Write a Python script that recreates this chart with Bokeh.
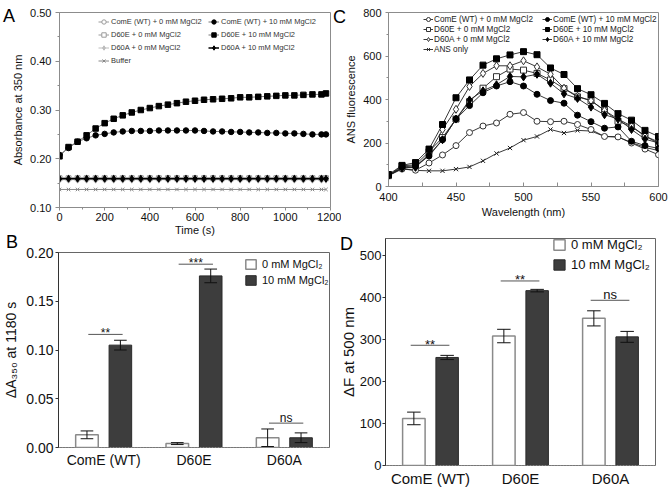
from bokeh.plotting import figure
from bokeh.layouts import column, row
from bokeh.models import Range1d, Legend, LegendItem, FixedTicker, NumeralTickFormatter, Div
from bokeh.core.properties import value
from bokeh.embed import file_html
from bokeh.resources import INLINE

FONT = "Liberation Sans"

# ---------------- Panel A data ----------------
time_s = [0, 40, 80, 120, 160, 200, 240, 280, 320, 360, 400, 440, 480, 520, 560, 600,
          640, 680, 720, 760, 800, 840, 880, 920, 960, 1000, 1040, 1080, 1120, 1160, 1180]
a_come_0 = [0.161, 0.161, 0.161, 0.161, 0.161, 0.161, 0.161, 0.161, 0.161, 0.161, 0.161,
            0.161, 0.161, 0.161, 0.161, 0.161, 0.161, 0.161, 0.161, 0.161, 0.161, 0.161,
            0.161, 0.161, 0.161, 0.161, 0.161, 0.161, 0.161, 0.161, 0.161]
a_come_10 = [0.208, 0.222, 0.235, 0.242, 0.248, 0.251, 0.254, 0.256, 0.257, 0.257, 0.257,
             0.258, 0.258, 0.258, 0.258, 0.258, 0.257, 0.256, 0.256, 0.255, 0.255, 0.254,
             0.254, 0.253, 0.253, 0.252, 0.252, 0.251, 0.250, 0.250, 0.250]
a_d60e_0 = [0.160, 0.160, 0.160, 0.160, 0.160, 0.160, 0.160, 0.160, 0.160, 0.160, 0.160,
            0.160, 0.160, 0.160, 0.160, 0.160, 0.160, 0.160, 0.160, 0.160, 0.160, 0.160,
            0.160, 0.160, 0.160, 0.160, 0.160, 0.160, 0.160, 0.160, 0.160]
a_d60e_10 = [0.205, 0.224, 0.235, 0.248, 0.262, 0.273, 0.282, 0.289, 0.295, 0.300, 0.304,
             0.308, 0.311, 0.314, 0.317, 0.319, 0.321, 0.322, 0.323, 0.324, 0.326, 0.326,
             0.327, 0.328, 0.329, 0.330, 0.330, 0.331, 0.332, 0.332, 0.334]
a_d60a_0 = [0.157, 0.157, 0.157, 0.157, 0.157, 0.157, 0.157, 0.157, 0.157, 0.157, 0.157,
            0.157, 0.157, 0.157, 0.157, 0.157, 0.157, 0.157, 0.157, 0.157, 0.157, 0.157,
            0.157, 0.157, 0.157, 0.157, 0.157, 0.157, 0.157, 0.157, 0.157]
a_d60a_10 = [0.159, 0.159, 0.159, 0.159, 0.159, 0.159, 0.159, 0.159, 0.159, 0.159, 0.159,
             0.159, 0.159, 0.159, 0.159, 0.159, 0.159, 0.159, 0.159, 0.159, 0.159, 0.159,
             0.159, 0.159, 0.159, 0.159, 0.159, 0.159, 0.159, 0.159, 0.159]
a_buffer = [0.137, 0.137, 0.137, 0.137, 0.137, 0.137, 0.137, 0.137, 0.137, 0.137, 0.137,
            0.137, 0.137, 0.137, 0.137, 0.137, 0.137, 0.137, 0.137, 0.137, 0.137, 0.137,
            0.137, 0.137, 0.137, 0.137, 0.137, 0.137, 0.137, 0.137, 0.137]
a_xticks = [0, 200, 400, 600, 800, 1000, 1200]
a_yticks = [0.10, 0.20, 0.30, 0.40, 0.50]

# ---------------- Panel C data ----------------
wavelength = [400, 410, 420, 430, 440, 450, 460, 470, 480, 490, 500,
              510, 520, 530, 540, 550, 560, 570, 580, 590, 600]
c_come_0 = [50, 80, 75, 108, 145, 188, 248, 278, 292, 332, 340, 300, 298, 300, 285, 262, 230, 228, 200, 172, 146]
c_come_10 = [50, 90, 95, 140, 215, 310, 372, 431, 462, 482, 462, 424, 395, 383, 328, 298, 268, 274, 208, 188, 175]
c_d60e_0 = [50, 95, 100, 160, 225, 310, 390, 452, 505, 540, 535, 520, 490, 450, 412, 395, 350, 300, 275, 232, 198]
c_d60e_10 = [55, 97, 110, 172, 285, 408, 490, 558, 587, 605, 620, 606, 545, 515, 450, 422, 382, 335, 305, 258, 230]
c_d60a_0 = [50, 85, 90, 150, 262, 355, 460, 520, 555, 555, 578, 550, 516, 452, 415, 395, 350, 310, 278, 232, 205]
c_d60a_10 = [50, 85, 88, 145, 215, 310, 398, 440, 468, 506, 504, 516, 475, 426, 405, 365, 330, 311, 262, 218, 200]
c_ans = [55, 82, 74, 72, 72, 80, 90, 118, 152, 177, 213, 230, 262, 246, 258, 255, 230, 228, 202, 180, 165]
c_xticks = [400, 450, 500, 550, 600]
c_yticks = [0, 200, 400, 600, 800]

# ---------------- Panels B / D data ----------------
groups = ["ComE (WT)", "D60E", "D60A"]
legend_labels = ["0 mM MgCl\u2082", "10 mM MgCl\u2082"]
b_0mm = [0.013, 0.004, 0.010]
b_0mm_err = [0.004, 0.001, 0.009]
b_10mm = [0.105, 0.176, 0.010]
b_10mm_err = [0.005, 0.007, 0.005]
b_sig = ["**", "***", "ns"]
b_sig_level = [0.116, 0.188, 0.025]
b_yticks = [0.00, 0.05, 0.10, 0.15, 0.20]

d_0mm = [112, 308, 350]
d_0mm_err = [15, 16, 18]
d_10mm = [257, 416, 306]
d_10mm_err = [5, 3, 13]
d_sig = ["**", "**", "ns"]
d_sig_level = [286, 439, 393]
d_yticks = [0, 100, 200, 300, 400, 500]

panel_letters = ["A", "B", "C", "D"]


def make_fig(w, h, xr, yr, bl, br, bt, bb):
    p = figure(width=w, height=h, x_range=Range1d(*xr), y_range=Range1d(*yr),
               output_backend="svg", toolbar_location=None, frame_align=False,
               min_border_left=bl, min_border_right=br, min_border_top=bt, min_border_bottom=bb)
    p.xgrid.visible = False
    p.ygrid.visible = False
    p.background_fill_color = "white"
    p.border_fill_color = "white"
    for ax in p.axis:
        ax.major_label_text_font = FONT
        ax.axis_label_text_font = FONT
        ax.axis_label_text_font_style = "normal"
        ax.major_label_text_color = "#111111"
        ax.axis_label_text_color = "#111111"
    return p


# ======================= Panel A =======================
pA = make_fig(341, 238, (0, 1200), (0.10, 0.50), 59, 11, 12, 31)
pA.outline_line_color = "#8c8c8c"
pA.xaxis.ticker = FixedTicker(ticks=a_xticks, minor_ticks=[100, 300, 500, 700, 900, 1100])
pA.yaxis.ticker = FixedTicker(ticks=a_yticks, minor_ticks=[0.15, 0.25, 0.35, 0.45])
pA.yaxis.formatter = NumeralTickFormatter(format="0.00")
for ax in pA.axis:
    ax.axis_line_color = "#8c8c8c"
    ax.major_tick_line_color = "#8c8c8c"
    ax.minor_tick_line_color = "#8c8c8c"
    ax.major_label_text_font_size = "11px"
    ax.axis_label_text_font_size = "11px"
pA.xaxis.major_tick_out = 3
pA.xaxis.major_tick_in = 0
pA.xaxis.minor_tick_out = 2
pA.xaxis.minor_tick_in = 0
pA.xaxis.major_label_standoff = 2
pA.xaxis.axis_label = "Time (s)"
pA.xaxis.axis_label_standoff = 0
pA.yaxis.major_tick_out = 4
pA.yaxis.major_tick_in = 0
pA.yaxis.minor_tick_out = 2
pA.yaxis.minor_tick_in = 0
pA.yaxis.major_label_standoff = 4
pA.yaxis.axis_label = "Absorbance at 350 nm"
pA.yaxis.axis_label_standoff = 3

rA = {}
specA = [
    ("Buffer", a_buffer, "x", 5, "#888888", "#888888", "#888888", 1),
    ("ComE (WT) + 0 mM MgCl2", a_come_0, "circle", 5, "white", "#9a9a9a", "#9a9a9a", 1),
    ("D60E + 0 mM MgCl2", a_d60e_0, "square", 5, "white", "#9a9a9a", "#9a9a9a", 1),
    ("D60A + 0 mM MgCl2", a_d60a_0, "diamond", 7, "#bdbdbd", "#bdbdbd", "#bdbdbd", 1),
    ("D60A + 10 mM MgCl2", a_d60a_10, "diamond", 7, "#000000", "#000000", "#000000", 1.5),
    ("ComE (WT) + 10 mM MgCl2", a_come_10, "circle", 5.5, "#000000", "#000000", "#777777", 1),
    ("D60E + 10 mM MgCl2", a_d60e_10, "square", 5.5, "#000000", "#000000", "#777777", 1),
]
for name, ys, mk, sz, fc, lc, linec, lw in specA:
    l = pA.line(time_s, ys, line_color=linec, line_width=lw)
    s = pA.scatter(time_s, ys, marker=mk, size=sz, fill_color=fc, line_color=lc, line_width=1)
    rA[name] = [l, s]

legA_left = ["ComE (WT) + 0 mM MgCl2", "D60E + 0 mM MgCl2", "D60A + 0 mM MgCl2", "Buffer"]
legA_right = ["ComE (WT) + 10 mM MgCl2", "D60E + 10 mM MgCl2", "D60A + 10 mM MgCl2"]
for names, loc in ((legA_left, (39, 140)), (legA_right, (149, 153))):
    lg = Legend(items=[LegendItem(label=n, renderers=rA[n]) for n in names], location=loc,
                padding=0, margin=0, spacing=0, glyph_width=11, glyph_height=13, label_height=13,
                label_standoff=2, label_text_font=FONT, label_text_font_size="7.5px",
                label_text_color="#333333", background_fill_alpha=0, border_line_alpha=0)
    pA.add_layout(lg)

# ======================= Panel C =======================
pC = make_fig(328, 238, (400, 600), (0, 800), 47, 11, 12, 52)
pC.outline_line_color = "#8c8c8c"
pC.xaxis.ticker = FixedTicker(ticks=c_xticks, minor_ticks=[425, 475, 525, 575])
pC.yaxis.ticker = FixedTicker(ticks=c_yticks, minor_ticks=[100, 300, 500, 700])
for ax in pC.axis:
    ax.axis_line_color = "#8c8c8c"
    ax.major_tick_line_color = "#8c8c8c"
    ax.minor_tick_line_color = "#8c8c8c"
    ax.major_label_text_font_size = "11px"
    ax.axis_label_text_font_size = "11px"
pC.xaxis.major_tick_in = 4
pC.xaxis.major_tick_out = 0
pC.xaxis.minor_tick_in = 4
pC.xaxis.minor_tick_out = 0
pC.xaxis.major_label_standoff = 6
pC.xaxis.axis_label = "Wavelength (nm)"
pC.xaxis.axis_label_standoff = 2
pC.yaxis.major_tick_out = 3
pC.yaxis.major_tick_in = 0
pC.yaxis.minor_tick_out = 2
pC.yaxis.minor_tick_in = 0
pC.yaxis.major_label_standoff = 4
pC.yaxis.axis_label = "ANS fluorescence"
pC.yaxis.axis_label_standoff = 3

rC = {}
specC = [
    ("ANS only", c_ans, "x", 6, "#222222", "#222222"),
    ("ComE (WT) + 0 mM MgCl2", c_come_0, "circle", 6, "white", "#333333"),
    ("D60E + 0 mM MgCl2", c_d60e_0, "square", 6, "white", "#333333"),
    ("D60A + 0 mM MgCl2", c_d60a_0, "diamond", 8, "white", "#333333"),
    ("D60A + 10 mM MgCl2", c_d60a_10, "diamond", 8, "#000000", "#000000"),
    ("ComE (WT) + 10 mM MgCl2", c_come_10, "circle", 6, "#000000", "#000000"),
    ("D60E + 10 mM MgCl2", c_d60e_10, "square", 6, "#000000", "#000000"),
]
for name, ys, mk, sz, fc, lc in specC:
    l = pC.line(wavelength, ys, line_color="#222222", line_width=0.9)
    s = pC.scatter(wavelength, ys, marker=mk, size=sz, fill_color=fc, line_color=lc, line_width=1)
    rC[name] = [l, s]

legC_left = ["ComE (WT) + 0 mM MgCl2", "D60E + 0 mM MgCl2", "D60A + 0 mM MgCl2", "ANS only"]
legC_right = ["ComE (WT) + 10 mM MgCl2", "D60E + 10 mM MgCl2", "D60A + 10 mM MgCl2"]
for names, loc in ((legC_left, (35, 132)), (legC_right, (154, 142))):
    lg = Legend(items=[LegendItem(label=n, renderers=rC[n]) for n in names], location=loc,
                padding=0, margin=0, spacing=0, glyph_width=10, glyph_height=10, label_height=10,
                label_standoff=1, label_text_font=FONT, label_text_font_size="8.2px",
                label_text_color="#222222", background_fill_alpha=0, border_line_alpha=0)
    pC.add_layout(lg)


# ======================= Bar panels =======================
def bar_panel(p, v0, e0, v10, e10, sig, sig_level, off, bw, cap, sl, sr, sig_size,
              px_per_unit, tick_size, label_size, leg_loc, leg_glyph, leg_font):
    centers = [i + 0.5 for i in range(len(groups))]
    x0 = [c - off for c in centers]
    x1 = [c + off for c in centers]
    r0 = p.vbar(x=x0, top=v0, width=bw, fill_color="white", line_color="#8a8a8a", line_width=1.5)
    r1 = p.vbar(x=x1, top=v10, width=bw, fill_color="#3d3d3d", line_color="#2a2a2a", line_width=1)
    for xs, v, e in ((x0, v0, e0), (x1, v10, e10)):
        lo = [a - b for a, b in zip(v, e)]
        hi = [a + b for a, b in zip(v, e)]
        p.segment(x0=xs, y0=lo, x1=xs, y1=hi, line_color="#111111", line_width=1)
        for yy in (lo, hi):
            p.segment(x0=[x - cap for x in xs], y0=yy, x1=[x + cap for x in xs], y1=yy,
                      line_color="#111111", line_width=1)
    p.segment(x0=[c + sl for c in centers], y0=sig_level, x1=[c + sr for c in centers],
              y1=sig_level, line_color="#555555", line_width=1)
    ty = [lv + (5.5 if s == "ns" else 1.0) / px_per_unit for lv, s in zip(sig_level, sig)]
    p.text(x=[c + (sl + sr) / 2 for c in centers], y=ty, text=sig, text_align="center",
           text_baseline="alphabetic", text_font=value(FONT), text_font_size=sig_size,
           text_color="#111111")
    p.xaxis.ticker = FixedTicker(ticks=centers)
    p.xaxis.major_label_overrides = {c: g for c, g in zip(centers, groups)}
    p.xaxis.major_tick_out = 0
    p.xaxis.major_tick_in = 0
    p.xaxis.minor_tick_out = 0
    p.xaxis.minor_tick_in = 0
    p.xaxis.axis_line_color = "#888888"
    p.xaxis.axis_line_dash = "2 1"
    p.xaxis.major_label_standoff = 4
    p.yaxis.minor_tick_out = 0
    p.yaxis.minor_tick_in = 0
    p.yaxis.major_tick_in = 0
    p.yaxis.major_tick_out = 3
    p.yaxis.major_label_standoff = 2
    p.yaxis.axis_line_color = "#333333"
    p.yaxis.major_tick_line_color = "#333333"
    p.outline_line_color = "#666666"
    for ax in p.axis:
        ax.major_label_text_font_size = tick_size
        ax.axis_label_text_font_size = label_size
    p.xaxis.major_label_text_font_size = label_size
    lg = Legend(items=[LegendItem(label=legend_labels[0], renderers=[r0]),
                       LegendItem(label=legend_labels[1], renderers=[r1])],
                location=leg_loc, padding=0, margin=0, spacing=leg_glyph[2],
                glyph_width=leg_glyph[0], glyph_height=leg_glyph[1], label_height=leg_glyph[1],
                label_standoff=5, label_text_font=FONT, label_text_font_size=leg_font,
                label_text_color="#111111", background_fill_alpha=0, border_line_alpha=0)
    p.add_layout(lg)


pB = make_fig(335, 251, (0, 3), (0.0, 0.20), 56, 6, 14, 42)
pB.yaxis.ticker = FixedTicker(ticks=b_yticks)
pB.yaxis.formatter = NumeralTickFormatter(format="0.00")
pB.yaxis.axis_label = "\u0394A\u2083\u2085\u2080 at 1180 s"
pB.yaxis.axis_label_standoff = 4
bar_panel(pB, b_0mm, b_0mm_err, b_10mm, b_10mm_err, b_sig, b_sig_level,
          0.185, 0.25, 0.07, -0.17, 0.21, "12px", 195 / 0.2, "14px", "14px",
          (186, 161), (13, 12, 4), "11px")

pD = make_fig(334, 251, (0, 3), (0, 540), 50, 14, 0, 23)
pD.yaxis.ticker = FixedTicker(ticks=d_yticks)
pD.yaxis.axis_label = "\u0394F at 500 nm"
bar_panel(pD, d_0mm, d_0mm_err, d_10mm, d_10mm_err, d_sig, d_sig_level,
          0.185, 0.25, 0.075, -0.22, 0.21, "13px", 228 / 540, "13px", "15px",
          (167, 193), (14, 13, 5), "13px")
pD.yaxis.axis_label_standoff = 0
pD.yaxis.major_label_standoff = 1

# ---------------- Panel letters: absolutely placed text over the page ----------------
letter_spots = [(3, 6.5), (6, 232.5), (333, 7.5), (340, 234.5)]   # left / top in page pixels
letters_html = "".join(
    '<div style="position:absolute;left:%spx;top:%spx;font-family:\'Liberation Sans\',Arial,sans-serif;'
    'font-size:18px;line-height:18px;color:#000;z-index:50;pointer-events:none;">%s</div>' % (lx, ty, t)
    for t, (lx, ty) in zip(panel_letters, letter_spots))
letters = Div(text=letters_html, width=669, height=0, margin=0,
              styles={"overflow": "visible", "z-index": "50", "height": "0px"})

layout = column(letters, row(pA, pC), row(pB, pD), spacing=0)
open("out.html", "w").write(file_html(layout, INLINE))
